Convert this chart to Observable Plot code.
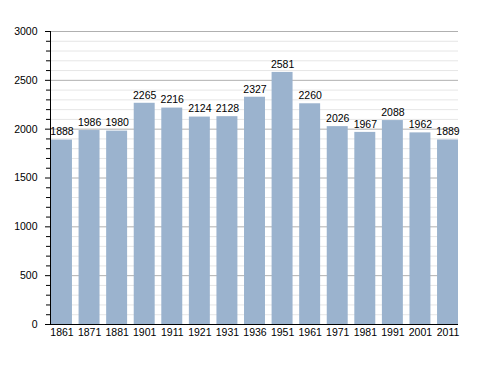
<!DOCTYPE html>
<html><head><meta charset="utf-8">
<script src="https://cdn.jsdelivr.net/npm/d3@7"></script>
<script src="https://cdn.jsdelivr.net/npm/@observablehq/plot@0.6"></script>
<style>body{margin:0;background:#fff;} svg{display:block;}</style>
</head><body><div id="chart"></div>
<script>
const years = ["1861","1871","1881","1901","1911","1921","1931","1936","1951","1961","1971","1981","1991","2001","2011"];
const population = [1888,1986,1980,2265,2216,2124,2128,2327,2581,2260,2026,1967,2088,1962,1889];
const majorTicks = [0,500,1000,1500,2000,2500,3000];
const minorTicks = d3.range(0,3001,100).filter(v => v % 500 !== 0);

const data = years.map((y,i) => ({year:y, value:population[i]}));

const chart = Plot.plot({
  width: 488, height: 373,
  marginTop: 31, marginBottom: 49, marginLeft: 51, marginRight: 30,
  style: {fontFamily: "Liberation Sans, Arial, sans-serif", fontSize: "10.5px", color: "#000", background: "#fff"},
  x: {domain: years, paddingInner: 0.24, paddingOuter: 0, round: false, label: null},
  y: {domain: [0,3000], label: null},
  marks: [
    Plot.ruleY(minorTicks, {stroke: "#e6e6e6", strokeWidth: 1}),
    Plot.ruleY(majorTicks.filter(v=>v>0), {stroke: "#b0b0b0", strokeWidth: 1}),
    Plot.barY(data, {x: "year", y: "value", fill: "#9bb3ce"}),
    Plot.text(data, {x: "year", y: "value", text: d => String(d.value), dy: -8, fill: "#000", fontSize: 10.5}),
    Plot.axisY(minorTicks, {tickSize: 4, text: null, stroke: "#000", label: null, dx: -1}),
    Plot.axisY(majorTicks, {tickSize: 5, tickPadding: 8, tickFormat: d => String(d), stroke: "#000", label: null, fontSize: 10.5, dx: -1}),
    Plot.axisX({tickSize: 0, tickPadding: 4, label: null, fontSize: 10.5}),
    Plot.ruleY([0], {stroke: "#000"}),
    Plot.frame({anchor: "left", stroke: "#000", dx: -1})
  ]
});
document.getElementById("chart").appendChild(chart);
</script></body></html>
